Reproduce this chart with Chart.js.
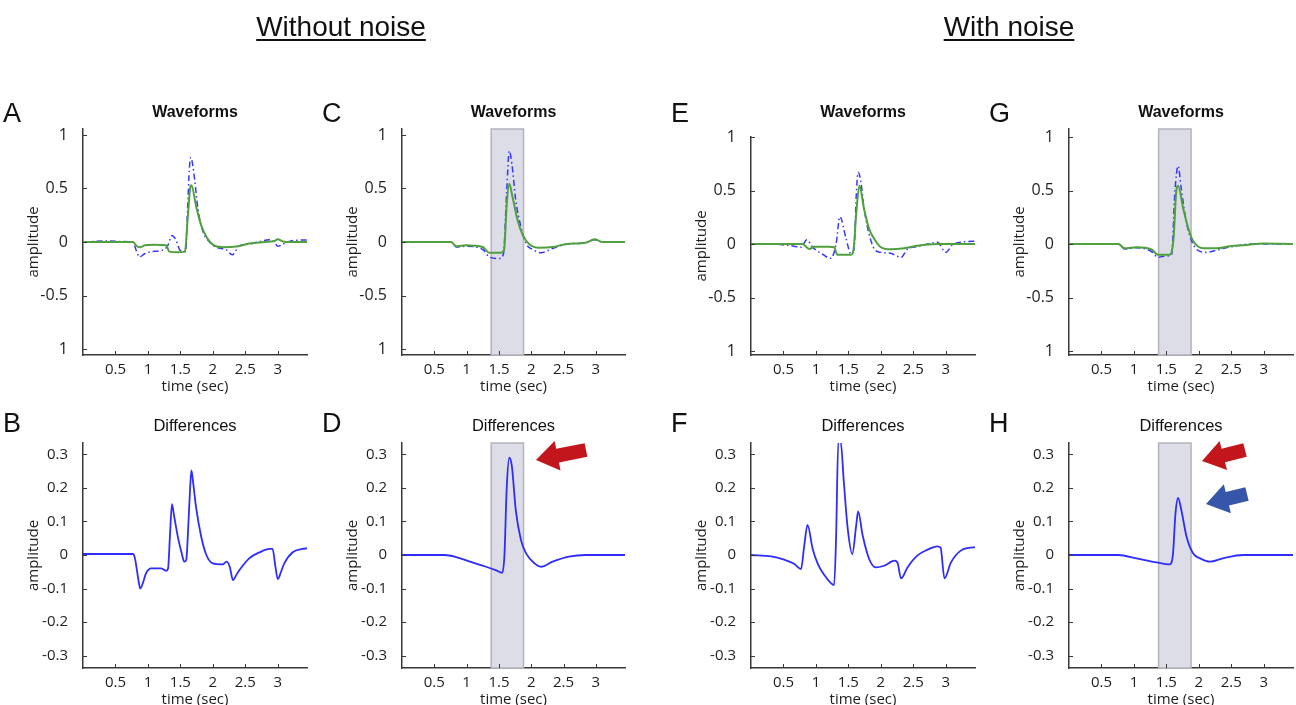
<!DOCTYPE html>
<html>
<head>
<meta charset="utf-8">
<script src="https://cdn.jsdelivr.net/npm/chart.js@4.4.1/dist/chart.umd.min.js"></script>
<style>
    body { margin: 0; background: #fff; width: 1296px; height: 705px; overflow: hidden; position: relative; }
    .panel { position: absolute; }
    #overlay { position: absolute; left: 0; top: 0; pointer-events: none; }
</style>
</head>
<body>
<svg id="overlay" width="1296" height="705"></svg>
<script>
// --- Data ---

const X_TICKS = [0.5, 1, 1.5, 2, 2.5, 3];
const X_LABELS = ['0.5', '1', '1.5', '2', '2.5', '3'];
const WAVE_Y_TICKS = [-1, -0.5, 0, 0.5, 1];
const WAVE_Y_LABELS = ['1', '-0.5', '0', '0.5', '1']; // bottom label has no minus in the original
const DIFF_Y_TICKS = [-0.3, -0.2, -0.1, 0, 0.1, 0.2, 0.3];
const DIFF_Y_LABELS = ['-0.3', '-0.2', '-0.1', '0', '0.1', '0.2', '0.3'];
const SHADE = [1.38, 1.88];

// A - waveforms, without noise
const A_T_GREEN = [0, 0.5, 0.77, 0.83, 0.88, 0.95, 1.1, 1.28, 1.33, 1.45, 1.57, 1.61, 1.65, 1.67, 1.74, 1.82, 1.9, 2.0, 2.15, 2.36, 2.56, 2.8, 2.95, 3.0, 3.08, 3.2, 3.45];
const A_GREEN   = [0, 0, 0, -0.04, -0.05, -0.03, -0.025, -0.03, -0.09, -0.095, -0.09, 0.2, 0.5, 0.53, 0.34, 0.155, 0.05, -0.025, -0.048, -0.043, -0.015, 0, 0.01, 0.025, 0.005, 0, 0];
const A_T_BLUE  = [0, 0.4, 0.6, 0.77, 0.82, 0.87, 0.95, 1.05, 1.2, 1.3, 1.37, 1.43, 1.5, 1.58, 1.61, 1.64, 1.66, 1.69, 1.72, 1.77, 1.85, 1.95, 2.05, 2.2, 2.3, 2.4, 2.55, 2.7, 2.87, 2.95, 3.0, 3.08, 3.2, 3.45];
const A_BLUE    = [0, 0.01, 0.005, 0, -0.08, -0.14, -0.11, -0.09, -0.08, -0.04, 0.06, 0.02, -0.08, -0.09, 0.3, 0.7, 0.79, 0.72, 0.58, 0.31, 0.094, 0, -0.05, -0.07, -0.12, -0.04, -0.02, 0, 0.02, 0, -0.04, -0.02, 0.01, 0.02];

// B - differences, without noise
const B_T    = [0, 0.5, 0.77, 0.8, 0.85, 0.88, 0.92, 0.97, 1.05, 1.2, 1.28, 1.31, 1.34, 1.37, 1.4, 1.46, 1.52, 1.56, 1.59, 1.62, 1.65, 1.67, 1.7, 1.74, 1.82, 1.9, 2.0, 2.15, 2.21, 2.26, 2.31, 2.36, 2.41, 2.56, 2.72, 2.87, 2.92, 2.96, 3.0, 3.05, 3.1, 3.23, 3.38, 3.45];
const B_DIFF = [0.003, 0.003, 0.003, -0.01, -0.07, -0.1, -0.085, -0.055, -0.04, -0.04, -0.047, -0.04, 0.06, 0.152, 0.12, 0.055, 0.005, -0.02, -0.015, 0.08, 0.2, 0.252, 0.21, 0.144, 0.055, 0, -0.025, -0.028, -0.02, -0.035, -0.075, -0.06, -0.045, -0.01, 0.008, 0.018, 0.018, -0.03, -0.072, -0.05, -0.025, 0.008, 0.018, 0.02];

// C - waveforms, without noise, windowed fit
const C_T_GREEN = [0, 0.5, 0.76, 0.84, 0.99, 1.25, 1.35, 1.53, 1.58, 1.62, 1.66, 1.71, 1.79, 1.87, 1.97, 2.12, 2.33, 2.53, 2.84, 2.98, 3.1, 3.45];
const C_GREEN   = [0, 0, 0, -0.04, -0.03, -0.047, -0.1, -0.1, -0.07, 0.35, 0.545, 0.42, 0.2, 0.062, -0.02, -0.053, -0.047, -0.02, -0.006, 0.025, 0, 0];
const C_T_BLUE  = [0, 0.5, 0.76, 0.84, 0.99, 1.25, 1.35, 1.51, 1.57, 1.62, 1.66, 1.7, 1.76, 1.84, 1.92, 2.02, 2.15, 2.33, 2.53, 2.84, 2.98, 3.1, 3.45];
const C_BLUE    = [0, 0, 0, -0.047, -0.04, -0.07, -0.14, -0.155, -0.11, 0.48, 0.85, 0.73, 0.39, 0.14, -0.016, -0.07, -0.1, -0.06, -0.022, -0.006, 0.02, 0, 0];

// D - differences, without noise, windowed fit
const D_T    = [0, 0.66, 0.85, 1.05, 1.3, 1.45, 1.55, 1.585, 1.62, 1.66, 1.7, 1.76, 1.84, 1.92, 2.05, 2.15, 2.33, 2.58, 2.84, 3.45];
const D_DIFF = [0, 0, -0.007, -0.02, -0.035, -0.045, -0.053, 0, 0.2, 0.29, 0.264, 0.134, 0.045, 0.005, -0.025, -0.035, -0.02, -0.005, 0, 0];

// E - waveforms, with noise
const E_T_GREEN = [0, 0.5, 0.79, 0.9, 0.97, 1.2, 1.28, 1.33, 1.54, 1.58, 1.62, 1.67, 1.74, 1.82, 1.9, 2.0, 2.15, 2.36, 2.56, 2.87, 3.45];
const E_GREEN   = [0, 0, 0, -0.047, -0.025, -0.025, -0.03, -0.1, -0.1, -0.05, 0.28, 0.545, 0.33, 0.14, 0.047, -0.03, -0.05, -0.04, -0.016, 0, 0];
const E_T_BLUE  = [0, 0.3, 0.62, 0.77, 0.86, 0.95, 1.08, 1.23, 1.31, 1.37, 1.46, 1.54, 1.59, 1.62, 1.65, 1.69, 1.74, 1.82, 1.9, 2.0, 2.15, 2.31, 2.41, 2.56, 2.72, 2.87, 3.0, 3.1, 3.23, 3.41, 3.45];
const E_BLUE    = [0, 0, -0.016, -0.03, 0.04, -0.03, -0.087, -0.134, 0, 0.255, 0.06, -0.093, -0.03, 0.44, 0.67, 0.59, 0.34, 0.09, -0.047, -0.078, -0.087, -0.125, -0.047, -0.025, 0, 0.016, -0.078, -0.01, 0.016, 0.025, 0.025];

// F - differences, with noise
const F_T    = [0, 0.31, 0.51, 0.67, 0.77, 0.82, 0.87, 0.95, 1.03, 1.13, 1.23, 1.28, 1.31, 1.345, 1.38, 1.43, 1.49, 1.56, 1.62, 1.65, 1.72, 1.82, 1.92, 2.05, 2.21, 2.26, 2.31, 2.41, 2.56, 2.72, 2.87, 2.92, 2.98, 3.08, 3.23, 3.38, 3.45];
const F_DIFF = [0, -0.004, -0.014, -0.027, -0.042, 0.028, 0.09, 0.018, -0.027, -0.06, -0.084, -0.09, 0.048, 0.34, 0.34, 0.217, 0.078, 0.003, 0.088, 0.13, 0.058, -0.012, -0.037, -0.032, -0.017, -0.025, -0.07, -0.037, -0.002, 0.016, 0.026, 0.022, -0.07, -0.022, 0.013, 0.022, 0.023];

// G - waveforms, with noise, windowed fit
const G_T_GREEN = [0, 0.5, 0.76, 0.86, 1.04, 1.27, 1.37, 1.55, 1.61, 1.65, 1.68, 1.76, 1.84, 1.91, 2.07, 2.27, 2.48, 2.73, 2.99, 3.45];
const G_GREEN   = [0, 0, 0, -0.04, -0.03, -0.05, -0.1, -0.1, 0.05, 0.48, 0.545, 0.33, 0.14, 0.03, -0.04, -0.04, -0.02, -0.01, 0.006, 0];
const G_T_BLUE  = [0, 0.5, 0.76, 0.86, 1.04, 1.27, 1.37, 1.45, 1.58, 1.63, 1.68, 1.73, 1.8, 1.86, 1.96, 2.12, 2.3, 2.53, 2.8, 3.45];
const G_BLUE    = [0, 0, 0, -0.047, -0.035, -0.07, -0.125, -0.115, -0.1, 0.48, 0.73, 0.51, 0.23, 0.078, -0.047, -0.078, -0.053, -0.022, 0, 0];

// H - differences, with noise, windowed fit
const H_T    = [0, 0.76, 1.04, 1.35, 1.55, 1.6, 1.64, 1.68, 1.73, 1.81, 1.91, 2.02, 2.17, 2.37, 2.68, 3.45];
const H_DIFF = [0, 0, -0.01, -0.022, -0.028, 0, 0.124, 0.17, 0.134, 0.055, 0.005, -0.01, -0.02, -0.01, 0, 0];

// --- Layout ---

const X_MAX = 3.45;
const Y_AXIS_W = 58;
const X_AXIS_H = 43;
const PAD_TOP = 8;
const PAD_RIGHT = 6;
const AXIS_COLOR = '#383838';
const TEXT_COLOR = '#1e1e1e';
const TICK_FONT = { family: "'Open Sans', sans-serif", size: 15 };

const panels = [
    { id: 'A', left: 83,   top: 129, w: 224, h: 226, ymin: -1.056, ymax: 1.056, kind: 'wave', blue: [A_T_BLUE, A_BLUE], green: [A_T_GREEN, A_GREEN] },
    { id: 'B', left: 83,   top: 443, w: 224, h: 225, ymin: -0.337, ymax: 0.334, kind: 'diff', diff: [B_T, B_DIFF] },
    { id: 'C', left: 402,  top: 129, w: 223, h: 226, ymin: -1.056, ymax: 1.056, kind: 'wave', blue: [C_T_BLUE, C_BLUE], green: [C_T_GREEN, C_GREEN], shade: SHADE },
    { id: 'D', left: 402,  top: 443, w: 223, h: 225, ymin: -0.337, ymax: 0.334, kind: 'diff', diff: [D_T, D_DIFF], shade: SHADE },
    { id: 'E', left: 751,  top: 137, w: 224, h: 218, ymin: -1.037, ymax: 1.0,   kind: 'wave', blue: [E_T_BLUE, E_BLUE], green: [E_T_GREEN, E_GREEN] },
    { id: 'F', left: 751,  top: 443, w: 224, h: 225, ymin: -0.337, ymax: 0.334, kind: 'diff', diff: [F_T, F_DIFF] },
    { id: 'G', left: 1069, top: 129, w: 224, h: 226, ymin: -1.037, ymax: 1.075, kind: 'wave', blue: [G_T_BLUE, G_BLUE], green: [G_T_GREEN, G_GREEN], shade: SHADE },
    { id: 'H', left: 1069, top: 443, w: 224, h: 225, ymin: -0.337, ymax: 0.334, kind: 'diff', diff: [H_T, H_DIFF], shade: SHADE }
];

function toPoints(t, v) {
    return t.map((x, i) => ({ x: x, y: v[i] }));
}

// Grey window behind the curves
const shadePlugin = {
    id: 'shade',
    beforeDatasetsDraw(chart, args, opts) {
        if (!opts.range) return;
        const { ctx, chartArea: a, scales: { x } } = chart;
        const x0 = x.getPixelForValue(opts.range[0]);
        const x1 = x.getPixelForValue(opts.range[1]);
        ctx.save();
        ctx.fillStyle = '#dcdde6';
        ctx.fillRect(x0, a.top, x1 - x0, a.bottom - a.top);
        ctx.strokeStyle = '#b3b3bc';
        ctx.lineWidth = 1.5;
        ctx.strokeRect(x0, a.top, x1 - x0, a.bottom - a.top);
        ctx.restore();
    }
};

// Small tick marks pointing into the plot, like the original
const innerTicks = {
    id: 'innerTicks',
    afterDraw(chart) {
        const { ctx, chartArea: a, scales: { x, y } } = chart;
        ctx.save();
        ctx.strokeStyle = AXIS_COLOR;
        ctx.lineWidth = 1;
        ctx.beginPath();
        x.ticks.forEach(t => {
            const px = Math.round(x.getPixelForValue(t.value)) + 0.5;
            ctx.moveTo(px, a.bottom);
            ctx.lineTo(px, a.bottom - 4);
        });
        y.ticks.forEach(t => {
            const py = Math.round(y.getPixelForValue(t.value)) + 0.5;
            ctx.moveTo(a.left, py);
            ctx.lineTo(a.left + 4, py);
        });
        ctx.stroke();
        ctx.restore();
    }
};

function makeChart(p) {
    const wrap = document.createElement('div');
    wrap.className = 'panel';
    const cw = Y_AXIS_W + p.w + PAD_RIGHT;
    const ch = PAD_TOP + p.h + X_AXIS_H;
    wrap.style.left = (p.left - Y_AXIS_W) + 'px';
    wrap.style.top = (p.top - PAD_TOP) + 'px';
    const canvas = document.createElement('canvas');
    canvas.width = cw;
    canvas.height = ch;
    wrap.appendChild(canvas);
    document.body.insertBefore(wrap, document.getElementById('overlay'));

    const datasets = [];
    if (p.kind === 'wave') {
        datasets.push({
            data: toPoints(p.green[0], p.green[1]),
            borderColor: 'rgb(80,160,62)',
            borderWidth: 2
        });
        datasets.push({
            data: toPoints(p.blue[0], p.blue[1]),
            borderColor: 'rgb(55,55,255)',
            borderWidth: 1.5,
            borderDash: [6, 3, 1.5, 3]
        });
    } else {
        datasets.push({
            data: toPoints(p.diff[0], p.diff[1]),
            borderColor: 'rgb(45,45,255)',
            borderWidth: 1.8
        });
    }
    datasets.forEach(d => {
        d.pointRadius = 0;
        d.fill = false;
        d.cubicInterpolationMode = 'monotone';
    });

    const isWave = p.kind === 'wave';
    const yTicks = isWave ? WAVE_Y_TICKS : DIFF_Y_TICKS;
    const yLabels = isWave ? WAVE_Y_LABELS : DIFF_Y_LABELS;

    new Chart(canvas, {
        type: 'line',
        data: { datasets: datasets },
        plugins: [shadePlugin, innerTicks],
        options: {
            responsive: false,
            animation: false,
            events: [],
            layout: { padding: { top: PAD_TOP, right: PAD_RIGHT, left: 0, bottom: 0 } },
            plugins: {
                legend: { display: false },
                tooltip: { enabled: false },
                shade: { range: p.shade || null }
            },
            scales: {
                x: {
                    type: 'linear',
                    min: 0,
                    max: X_MAX,
                    afterBuildTicks: s => { s.ticks = X_TICKS.map(v => ({ value: v })); },
                    afterFit: s => {
                        s.height = X_AXIS_H;
                        s.paddingLeft = 0;
                        s.paddingRight = 0;
                    },
                    grid: { display: false },
                    border: { display: true, color: AXIS_COLOR, width: 1.5 },
                    ticks: {
                        padding: -2,
                        font: TICK_FONT,
                        color: TEXT_COLOR,
                        maxRotation: 0,
                        autoSkip: false,
                        callback: (v, i) => X_LABELS[i]
                    },
                    title: {
                        display: true,
                        text: 'time (sec)',
                        font: { family: "'Open Sans', sans-serif", size: 15 },
                        color: TEXT_COLOR,
                        padding: { top: 0, bottom: 2 }
                    }
                },
                y: {
                    min: p.ymin,
                    max: p.ymax,
                    afterBuildTicks: s => { s.ticks = yTicks.map(v => ({ value: v })); },
                    afterFit: s => {
                        s.width = Y_AXIS_W;
                        s.paddingTop = 0;
                        s.paddingBottom = 0;
                    },
                    grid: { display: false },
                    border: { display: true, color: AXIS_COLOR, width: 1.5 },
                    ticks: {
                        padding: 7,
                        font: { family: "'Open Sans', sans-serif", size: isWave ? 16 : 15 },
                        color: TEXT_COLOR,
                        autoSkip: false,
                        callback: (v, i) => yLabels[i]
                    },
                    title: {
                        display: true,
                        text: 'amplitude',
                        font: { family: "'Open Sans', sans-serif", size: 15 },
                        color: TEXT_COLOR,
                        padding: { top: 0, bottom: 0 }
                    }
                }
            }
        }
    });
}

panels.forEach(makeChart);

// --- Text and arrow annotations ---

const HEADERS = [
    { text: 'Without noise', x: 341, y: 36 },
    { text: 'With noise', x: 1009, y: 36 }
];
const ARROWS = [
    { tail: [586, 450], tip: [536, 460], color: '#c3161c' },
    { tail: [1245, 450], tip: [1202, 461], color: '#c3161c' },
    { tail: [1247, 494], tip: [1206, 504], color: '#3657a9' }
];

const svgNS = 'http://www.w3.org/2000/svg';
const svg = document.getElementById('overlay');

function addText(str, x, y, attrs) {
    const el = document.createElementNS(svgNS, 'text');
    el.setAttribute('x', x);
    el.setAttribute('y', y);
    Object.keys(attrs).forEach(k => el.setAttribute(k, attrs[k]));
    el.textContent = str;
    svg.appendChild(el);
    return el;
}

HEADERS.forEach(h => {
    const el = addText(h.text, h.x, h.y, {
        'font-family': "'Liberation Sans', Arial, sans-serif",
        'font-size': 28, 'text-anchor': 'middle', fill: '#111'
    });
    const w = el.getComputedTextLength();
    const line = document.createElementNS(svgNS, 'line');
    line.setAttribute('x1', h.x - w / 2);
    line.setAttribute('x2', h.x + w / 2);
    line.setAttribute('y1', h.y + 4);
    line.setAttribute('y2', h.y + 4);
    line.setAttribute('stroke', '#111');
    line.setAttribute('stroke-width', 2);
    svg.appendChild(line);
});

panels.forEach(p => {
    const letterX = p.left - 80;
    const baseline = p.kind === 'wave' ? 122 : 432;
    addText(p.id, letterX, baseline, {
        'font-family': "'Liberation Sans', Arial, sans-serif",
        'font-size': 27, fill: '#111'
    });
    const isWave = p.kind === 'wave';
    addText(isWave ? 'Waveforms' : 'Differences', p.left + p.w / 2, isWave ? 117 : 431, {
        'font-family': "'Liberation Sans', Arial, sans-serif",
        'font-size': isWave ? 16 : 16.5, 'font-weight': isWave ? 'bold' : 'normal',
        'text-anchor': 'middle', fill: '#111'
    });
});

// Block arrow: shaft then a wide head, oriented from tail to tip
ARROWS.forEach(a => {
    const dx = a.tip[0] - a.tail[0], dy = a.tip[1] - a.tail[1];
    const len = Math.hypot(dx, dy);
    const ang = Math.atan2(dy, dx) * 180 / Math.PI;
    const shaftW = 14, headW = 30, headL = 22;
    const pts = [
        [0, -shaftW / 2], [len - headL, -shaftW / 2], [len - headL, -headW / 2],
        [len, 0],
        [len - headL, headW / 2], [len - headL, shaftW / 2], [0, shaftW / 2]
    ];
    const poly = document.createElementNS(svgNS, 'polygon');
    poly.setAttribute('points', pts.map(q => q.join(',')).join(' '));
    poly.setAttribute('fill', a.color);
    poly.setAttribute('transform', `translate(${a.tail[0]},${a.tail[1]}) rotate(${ang})`);
    svg.appendChild(poly);
});
</script>
</body>
</html>
